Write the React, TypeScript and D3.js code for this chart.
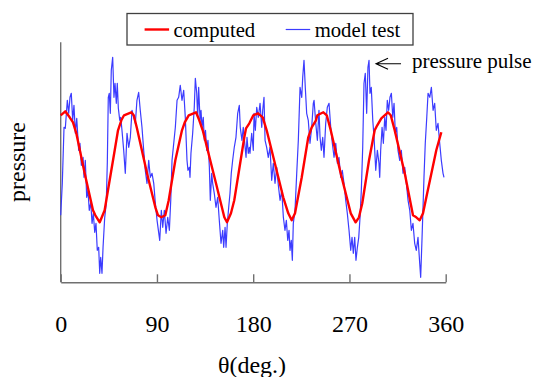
import React, { useEffect, useRef } from "react";
import * as d3 from "d3";

// x axis ticks (deg)
const xTicks = [0, 90, 180, 270, 360];

// computed pressure (red)
const computedTheta = [
  0, 4.3, 8.4, 11.5, 14.6, 22.4, 30.2, 32.4, 36.5, 41.1, 44.2, 50.5, 53.6, 56.7, 59.2,
  66, 68.3, 71.3, 80.7, 88.5, 91, 94.1, 97.8, 101, 107.2, 113.4, 116, 119.7,
  126.5, 129.6, 132.8, 145.2, 153, 155.5, 159.2, 162.3, 171.7, 173.3, 176.4, 180.1,
  184.5, 188.9, 192.6, 208.1, 212.8, 216, 219.1, 225.4, 231.5, 234.7, 238.7, 240,
  245.6, 248.8, 252.5, 261.8, 271.2, 275.8, 278.9, 282, 288.3, 293.6, 296, 299.8,
  306, 308.6, 312.3, 321.7, 329.4, 332.5, 335.7, 338.8, 341.9, 351.2, 355.9,
];
const computedPressure = [
  167, 171, 165, 160, 149, 109, 72, 67, 60, 72, 92, 132, 152, 162, 167,
  170, 167, 154, 109, 75, 67, 65, 67, 82, 122, 152, 160, 167,
  170, 162, 152, 99, 65, 60, 69, 82, 145, 154, 159, 167,
  169, 165, 152, 85, 69, 62, 69, 105, 145, 155, 162, 167,
  170, 167, 152, 109, 69, 60, 65, 79, 122, 152, 157, 164,
  170, 167, 152, 109, 67, 65, 62, 69, 85, 132, 150,
];

// model test pressure (blue)
const testTheta = [
  0, 1.5, 3.1, 4.3, 6.2, 7.5, 8.7, 9.9, 11.2, 12.4, 13.7, 15, 16.8, 18, 19.3, 20.9,
  21.8, 23, 24.3, 25.5, 26.7, 28.1, 29.3, 30.5, 31.8, 33, 34.2, 35.5, 36.5, 37.4,
  38.6, 39.6, 41.1, 42.6, 43.6, 44.5, 45.4, 46.4, 47.3, 48.6, 49.8, 50.8, 52, 52.9,
  53.9, 55.2, 56.1, 57.3, 58.9, 60.4, 62, 63.6, 65.1, 66.7, 68.3, 69.8, 71.3, 72.9,
  74.4, 76, 77.6, 79.1, 80.7, 82.3, 83.8, 85.4, 87, 88.5, 90.1, 91.6, 92.6, 94.1,
  95.4, 96.9, 98.5, 100.1, 101.6, 102.9, 104.1, 105.7, 107.2, 108.8, 110.3, 111.8,
  113.4, 115, 116.5, 118.1, 119, 120.3, 120.9, 121.8, 123.4, 124.9, 125.9, 127.2,
  128.1, 129, 130.3, 131.2, 132.1, 133.3, 134.3, 135.4, 136.5, 137.7, 139, 139.9,
  141.2, 142.1, 143.6, 145.2, 146.8, 148.3, 149.9, 151.5, 152.4, 153.7, 154.6, 155.8,
  157.1, 158.3, 159.5, 160.8, 162.3, 163.9, 165.5, 167, 167.9, 169.5, 170.7, 172.1,
  173.3, 174.2, 175.4, 176.4, 177, 178.6, 180.1, 180.8, 182, 183.3, 184.8, 186.4,
  188, 188.9, 190.1, 191.1, 192.6, 194.1, 195.7, 197.3, 198.8, 200.4, 202, 203.5,
  205.1, 206.7, 208.2, 209.7, 211, 212.3, 213.5, 214.4, 215.6, 216.6, 217.5, 219.1,
  220.7, 222.2, 223.8, 225.4, 226.3, 227.5, 228.7, 230, 231.5, 233.1, 234.7, 236.2,
  236.9, 238.5, 240, 241.5, 242.5, 243.7, 245, 246.2, 247.8, 249.3, 250.9, 252.5,
  254, 255.6, 257.2, 258.7, 260.2, 261.8, 263.3, 264.9, 266.5, 268, 269.6, 271.2,
  272.4, 273.6, 274.9, 276.1, 277.4, 278.7, 279.9, 281.1, 282.4, 283.6, 284.8, 286.1,
  287.3, 288.3, 289.2, 290.4, 291.8, 293, 294.6, 296.1, 297.6, 298.3, 299.2, 300.5,
  301.7, 303, 304.2, 305.4, 306.7, 307.9, 309.2, 310.5, 311.7, 312.9, 314.2, 315.4,
  317, 318.5, 320.1, 321.7, 323.2, 324.8, 326.4, 327.9, 329.4, 331, 332.5, 334.1,
  335.7, 336.6, 337.9, 338.8, 339.7, 340.9, 342.3, 343.5, 345.1, 346.6, 348.2, 349.7,
  351.2, 352.8, 354.4, 355.9, 357.5, 358.4,
];
const testPressure = [
  67, 99, 155, 154, 182, 169, 185, 189, 162, 177, 149, 164, 132, 139, 117, 125,
  105, 122, 85, 92, 72, 80, 59, 69, 50, 59, 32, 35, 9, 25,
  9, 35, 64, 79, 120, 185, 189, 169, 212, 225, 185, 199, 179, 199,
  174, 162, 165, 152, 132, 109, 149, 135, 145, 172, 165, 159, 182, 190,
  172, 155, 132, 112, 99, 122, 105, 109, 99, 79, 62, 50, 42, 72,
  55, 72, 49, 65, 52, 82, 122, 139, 155, 182, 185, 197,
  182, 192, 165, 122, 112, 115, 105, 129, 149, 175, 204, 189,
  165, 195, 162, 172, 155, 165, 142, 152, 132, 142, 115, 82,
  109, 99, 89, 75, 85, 62, 39, 52, 35, 55, 35, 59,
  75, 89, 109, 122, 135, 145, 169, 177, 155, 142, 155, 139,
  125, 145, 129, 135, 129, 149, 132, 169, 152, 175, 165, 179,
  155, 172, 185, 142, 135, 125, 135, 102, 119, 99, 115, 97,
  82, 92, 65, 52, 62, 42, 52, 32, 42, 22, 59, 72,
  109, 142, 195, 185, 205, 222, 195, 169, 162, 139, 155, 179,
  182, 159, 142, 172, 145, 132, 145, 125, 159, 175, 179, 155,
  139, 125, 139, 119, 125, 105, 112, 99, 82, 69, 52, 32,
  45, 29, 45, 22, 35, 45, 65, 92, 135, 199, 209, 169,
  215, 222, 189, 195, 162, 145, 112, 132, 119, 105, 132, 155,
  139, 165, 152, 182, 172, 185, 189, 165, 179, 149, 155, 132,
  122, 132, 109, 115, 99, 82, 72, 52, 59, 39, 32, 45,
  19, 5, 45, 75, 105, 139, 165, 189, 185, 195, 172, 179,
  152, 159, 139, 122, 109, 105,
];

// annotated pressure pulse
const pulseTheta = 288.3;
const pulsePressure = 222;

const legendItems = ["computed", "model test"];
const legendColors = ["#ff0000", "#3c3cff"];

const W = 533;
const H = 377;
const serif = "'Liberation Serif', 'Times New Roman', serif";

export default function App(): JSX.Element {
  const ref = useRef<SVGSVGElement>(null);

  useEffect(() => {
    const svg = d3.select(ref.current);
    svg.selectAll("*").remove();

    const x = d3.scaleLinear().domain([0, 360]).range([60.7, 445.7]);
    const y = d3.scaleLinear().domain([0, 240]).range([282.3, 42.3]);

    // y axis, no ticks
    svg
      .append("line")
      .attr("x1", x(0))
      .attr("x2", x(0))
      .attr("y1", y(240))
      .attr("y2", y(0))
      .attr("stroke", "#707070")
      .attr("stroke-width", 1.4);

    // x axis, ticks point inward
    const xAxis = svg
      .append("g")
      .attr("transform", `translate(0,${y(0)})`)
      .call(
        d3
          .axisBottom(x)
          .tickValues(xTicks)
          .tickSize(-8)
          .tickSizeOuter(0)
          .tickPadding(33)
          .tickFormat(d3.format("d"))
      );
    xAxis.selectAll("path, line").attr("stroke", "#707070").attr("stroke-width", 1.4);
    xAxis
      .selectAll("text")
      .attr("fill", "#000")
      .style("font-family", serif)
      .style("font-size", "24px");

    const line = d3
      .line<[number, number]>()
      .x((d) => x(d[0]))
      .y((d) => y(d[1]));

    // model test
    svg
      .append("path")
      .datum(testTheta.map((t, i) => [t, testPressure[i]] as [number, number]))
      .attr("fill", "none")
      .attr("stroke", legendColors[1])
      .attr("stroke-width", 1.2)
      .attr("stroke-linejoin", "round")
      .attr("d", line);

    // computed
    svg
      .append("path")
      .datum(computedTheta.map((t, i) => [t, computedPressure[i]] as [number, number]))
      .attr("fill", "none")
      .attr("stroke", legendColors[0])
      .attr("stroke-width", 2.4)
      .attr("stroke-linejoin", "round")
      .attr("d", line);

    // axis titles
    svg
      .append("text")
      .attr("x", 252)
      .attr("y", 372.5)
      .attr("text-anchor", "middle")
      .style("font-family", serif)
      .style("font-size", "24px")
      .text("θ(deg.)");

    svg
      .append("text")
      .attr("transform", "translate(25,162) rotate(-90)")
      .attr("text-anchor", "middle")
      .style("font-family", serif)
      .style("font-size", "24px")
      .text("pressure");

    // legend
    const legend = svg.append("g");
    legend
      .append("rect")
      .attr("x", 127)
      .attr("y", 13.5)
      .attr("width", 286)
      .attr("height", 31.5)
      .attr("fill", "#fff")
      .attr("stroke", "#404040")
      .attr("stroke-width", 1.3);
    const lx = [144.6, 285.7];
    legendItems.forEach((name, i) => {
      legend
        .append("line")
        .attr("x1", lx[i])
        .attr("x2", lx[i] + 24.5)
        .attr("y1", 29.5)
        .attr("y2", 29.5)
        .attr("stroke", legendColors[i])
        .attr("stroke-width", i === 0 ? 2.4 : 1.2);
      legend
        .append("text")
        .attr("x", lx[i] + 29)
        .attr("y", 37)
        .style("font-family", serif)
        .style("font-size", "20.7px")
        .text(name);
    });

    // pressure pulse annotation
    const ax = x(pulseTheta) + 7;
    const ay = y(pulsePressure) + 3.5;
    svg
      .append("path")
      .attr("d", `M${ax + 25},${ay}H${ax}M${ax + 12},${ay - 5.5}L${ax},${ay}L${ax + 12},${ay + 5.5}`)
      .attr("fill", "none")
      .attr("stroke", "#000")
      .attr("stroke-width", 1.1);
    svg
      .append("text")
      .attr("x", ax + 36)
      .attr("y", ay + 4.5)
      .style("font-family", serif)
      .style("font-size", "21px")
      .text("pressure pulse");
  }, []);

  return (
    <svg
      ref={ref}
      width={W}
      height={H}
      style={{ position: "absolute", left: 0, top: 0, background: "#fff" }}
    />
  );
}
